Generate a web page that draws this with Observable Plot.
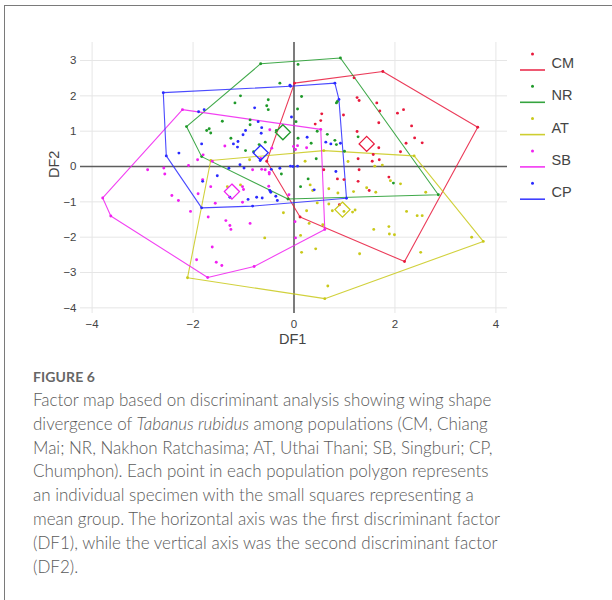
<!DOCTYPE html>
<html>
<head>
<meta charset="utf-8">
<script src="https://cdn.jsdelivr.net/npm/d3@7"></script>
<script src="https://cdn.jsdelivr.net/npm/@observablehq/plot@0.6"></script>
<style>
  html, body { margin: 0; padding: 0; background: #fff; }
  #page { position: relative; width: 612px; height: 600px; overflow: hidden; font-family: "Liberation Sans", Arial, sans-serif; }
  #frame { position: absolute; left: 4px; top: 5px; width: 800px; height: 800px; border-left: 1.5px solid #7a7a7a; border-top: 1.5px solid #7a7a7a; }
  #chart { position: absolute; left: 0; top: 0; }
  .axtitle { position: absolute; font-size: 14.5px; color: #444; white-space: nowrap; }
  #legend { position: absolute; left: 0; top: 0; }
  #caption { position: absolute; left: 33px; top: 366px; color: #5a5a5a; font-family: Lato, "Open Sans", sans-serif; }
  #caption .fig { font-weight: 700; font-size: 14px; letter-spacing: 0.1px; height: 22px; line-height: 22px; color: #666; }
  #caption .ln { font-size: 17px; line-height: 23.8px; height: 23.8px; white-space: nowrap; font-weight: 300; }
</style>
</head>
<body>
<div id="page">
  <div id="frame"></div>
  <div id="chart"></div>
  <div class="axtitle" id="xt" style="left:279px; top:331px;">DF1</div>
  <div class="axtitle" id="yt" style="left:41px; top:155px; transform: rotate(-90deg); transform-origin: 14px 9px;">DF2</div>
  <svg id="legend" width="612" height="220"></svg>
  <div id="caption"></div>
</div>
<script>
// ---- data ----
const groups = ["CM", "NR", "AT", "SB", "CP"];
const groupColors = ["#e8193c", "#1f9a2a", "#c9c91a", "#f020f0", "#2a2aff"];
const xTicks = [-4, -2, 0, 2, 4];
const yTicks = [-4, -3, -2, -1, 0, 1, 2, 3];

// hull vertices (each vertex is also a specimen)
const cmHull = [[0.01,2.36],[1.76,2.69],[3.64,1.11],[2.19,-2.69],[0.12,-1.43],[-0.54,0.15]];
const nrHull = [[-0.66,2.91],[0.92,3.07],[2.86,-0.80],[-0.12,-0.92],[-1.83,0.28],[-2.13,1.13]];
const atHull = [[-1.65,0.17],[0.59,0.45],[2.38,0.30],[3.75,-2.12],[0.61,-3.74],[-2.11,-3.15]];
const sbHull = [[-2.21,1.61],[0.53,1.05],[0.61,-1.78],[-0.79,-2.83],[-1.71,-3.14],[-3.63,-1.40],[-3.79,-0.89]];
const cpHull = [[-2.59,2.09],[-0.07,2.27],[0.81,2.36],[0.89,1.90],[1.04,-0.90],[-0.82,-1.12],[-1.83,-1.17],[-2.53,0.30]];

// interior specimens
const cmPoints = [[1.19,2.51],[1.25,1.95],[1.29,1.87],[1.64,1.80],[1.70,1.57],[2.05,1.51],[2.17,1.61],[0.98,1.46],[0.55,1.49],[0.53,1.30],[0.42,1.20],[1.68,1.24],[2.33,1.15],[1.25,0.99],[2.39,0.81],[2.54,0.67],[2.22,0.66],[1.68,0.53],[2.11,0.42],[1.57,0.34],[1.27,0.22],[1.69,0.19],[1.55,0.15],[1.29,-0.09],[0.59,-0.09],[1.88,-0.30],[0.86,-0.35],[0.99,-0.37],[1.27,-0.42],[1.49,-0.68],[0.90,-1.08]];
const nrPoints = [[0.08,2.89],[-0.28,2.36],[-1.06,2.00],[-1.17,1.80],[-0.51,1.89],[-0.54,1.72],[-0.51,1.61],[-0.87,1.32],[-1.42,1.28],[-0.87,1.18],[-1.68,1.07],[-1.73,1.02],[-1.65,0.95],[-0.35,1.02],[-1.25,0.80],[-0.57,0.69],[-0.69,0.62],[-0.96,0.45],[-0.80,0.42],[-0.25,-0.21],[0.15,1.98],[0.84,1.80],[0.86,1.84],[0.07,1.63],[0.04,1.27],[0.46,1.00],[0.66,0.91],[1.27,0.84],[0.08,0.80],[0.34,0.66],[0.81,0.74],[0.84,0.62],[1.00,0.43],[0.44,0.22],[0.28,-0.35],[1.97,-0.47],[0.13,-0.57]];
const atPoints = [[-0.88,0.19],[0.22,0.15],[1.07,0.14],[1.60,0.01],[1.75,0.04],[1.91,-0.40],[2.11,-0.49],[2.61,-0.73],[1.62,-0.73],[1.18,-0.71],[0.87,-0.75],[0.69,-0.63],[0.32,-0.52],[0.37,-0.68],[1.44,-0.60],[0.46,-1.03],[0.69,-1.06],[0.76,-1.25],[0.99,-1.27],[1.16,-1.29],[1.21,-1.23],[0.25,-1.25],[0.30,-1.61],[0.57,-1.65],[2.23,-1.27],[2.44,-1.39],[2.54,-1.39],[1.88,-1.70],[1.58,-1.78],[1.89,-1.91],[1.99,-1.93],[0.13,-1.95],[0.15,-2.43],[0.43,-2.33],[1.30,-2.47],[2.51,-2.43],[-0.21,-1.31],[3.52,-2.00],[0.67,-3.38],[-1.32,-0.57],[-1.06,-0.52],[-0.58,-2.02]];
const sbPoints = [[-0.48,1.04],[-1.37,0.58],[-0.44,0.52],[-1.80,0.33],[-1.91,0.19],[-0.66,0.23],[-1.62,0.15],[-2.09,0.03],[-2.58,-0.04],[-2.56,-0.21],[-2.90,-0.09],[-0.82,-0.09],[-0.64,-0.08],[-0.57,-0.09],[-0.49,-0.17],[-1.81,-0.37],[0.07,0.59],[-0.01,0.57],[0.03,0.48],[0.25,0.53],[-1.65,-0.57],[-2.42,-0.82],[-2.29,-0.96],[-1.90,-0.77],[-1.02,-0.57],[-1.00,-0.65],[-1.56,-1.04],[-1.02,-1.01],[-0.50,-0.56],[-0.49,-0.21],[-0.10,-0.80],[-2.05,-1.27],[-1.70,-1.43],[-1.35,-1.53],[-1.27,-1.67],[-1.25,-1.78],[-0.87,-1.61],[0.02,-1.56],[0.03,-2.02],[-1.62,-2.28],[-1.93,-2.64],[-1.54,-2.71],[-1.43,-2.80]];
const cpPoints = [[-0.78,1.66],[-1.78,1.61],[-1.89,1.55],[-0.71,1.27],[-0.64,1.10],[-0.96,1.02],[-0.65,0.94],[-1.01,0.90],[-1.11,0.71],[-1.20,0.64],[-1.12,0.55],[-1.83,0.64],[-2.28,0.38],[-0.67,0.17],[-1.29,-0.05],[-1.07,0.05],[-0.99,-0.04],[-0.45,-0.08],[-0.28,-0.05],[-1.52,-0.26],[-0.05,1.40],[-0.02,0.00],[0.26,0.83],[0.63,0.69],[0.73,0.64],[0.92,0.66],[0.07,0.01],[-0.07,0.01],[0.83,-0.14],[0.40,-0.66],[-1.81,-0.42],[-1.27,-0.87],[-0.91,-0.93],[-0.74,-0.87],[-0.63,-0.89],[-0.48,-0.68],[-0.46,-0.73],[-0.36,-0.84],[-0.33,-0.96],[-0.08,2.30]];

// group means (diamonds)
const meanX = [1.44, -0.22, 0.96, -1.23, -0.66];
const meanY = [0.64, 0.97, -1.22, -0.71, 0.39];

// ---- build tables ----
const hulls = [cmHull, nrHull, atHull, sbHull, cpHull];
const interior = [cmPoints, nrPoints, atPoints, sbPoints, cpPoints];
const color = g => groupColors[groups.indexOf(g)];

const hullRows = [];
const dotRows = [];
groups.forEach((g, i) => {
  hulls[i].forEach(([x, y]) => { hullRows.push({g, x, y}); dotRows.push({g, x, y}); });
  interior[i].forEach(([x, y]) => dotRows.push({g, x, y}));
});
const meanRows = groups.map((g, i) => ({g, x: meanX[i], y: meanY[i]}));

const minus = d => d < 0 ? "\u2212" + Math.abs(d) : String(d);

const chart = Plot.plot({
  width: 612,
  height: 350,
  marginLeft: 80,
  marginRight: 105,
  marginTop: 42,
  marginBottom: 37,
  style: {fontFamily: '"Liberation Sans", Arial, sans-serif', background: "transparent", overflow: "visible"},
  x: {domain: [-4.23, 4.23]},
  y: {domain: [-4.16, 3.51]},
  marks: [
    Plot.gridX(xTicks, {stroke: "#e6e6e6", strokeOpacity: 1, strokeWidth: 1}),
    Plot.gridY(yTicks, {stroke: "#e6e6e6", strokeOpacity: 1, strokeWidth: 1}),
    Plot.ruleX([0], {stroke: "#5e5e5e", strokeWidth: 1.6}),
    Plot.ruleY([0], {stroke: "#5e5e5e", strokeWidth: 1.6}),
    Plot.axisX(xTicks, {tickSize: 0, tickPadding: 6, tickFormat: minus, fontSize: 11.5, fill: "#444", label: null}),
    Plot.axisY(yTicks, {tickSize: 0, tickPadding: 4, tickFormat: minus, fontSize: 11.5, fill: "#444", label: null}),
    Plot.line(hullRows, {x: "x", y: "y", z: "g", stroke: d => color(d.g), strokeWidth: 1.1, strokeOpacity: 0.85, curve: "linear-closed"}),
    Plot.dot(dotRows, {x: "x", y: "y", r: 1.45, fill: d => color(d.g), stroke: "none"}),
    Plot.dot(meanRows, {x: "x", y: "y", symbol: "diamond2", r: 6.8, stroke: d => color(d.g), strokeWidth: 1.3, fill: "none"})
  ]
});
document.getElementById("chart").appendChild(chart);

// ---- legend ----
const leg = d3.select("#legend");
groups.forEach((g, i) => {
  const dy = i * 32.3;
  leg.append("circle").attr("cx", 532.5).attr("cy", 54 + dy).attr("r", 1.5).attr("fill", groupColors[i]);
  leg.append("line").attr("x1", 520).attr("x2", 545).attr("y1", 70 + dy).attr("y2", 70 + dy)
    .attr("stroke", groupColors[i]).attr("stroke-width", 1.6).attr("stroke-opacity", 0.9);
  leg.append("text").attr("x", 551.5).attr("y", 62.7 + dy).attr("dy", "0.36em")
    .attr("font-family", '"Liberation Sans", Arial, sans-serif').attr("font-size", 14.5).attr("fill", "#444").text(g);
});

// ---- caption ----
const captionLines = [
  "Factor map based on discriminant analysis showing wing shape",
  "divergence of <i>Tabanus rubidus</i> among populations (CM, Chiang",
  "Mai; NR, Nakhon Ratchasima; AT, Uthai Thani; SB, Singburi; CP,",
  "Chumphon). Each point in each population polygon represents",
  "an individual specimen with the small squares representing a",
  "mean group. The horizontal axis was the first discriminant factor",
  "(DF1), while the vertical axis was the second discriminant factor",
  "(DF2)."
];
const cap = document.getElementById("caption");
cap.innerHTML = '<div class="fig">FIGURE 6</div>' + captionLines.map(l => '<div class="ln">' + l + '</div>').join("");
</script>
</body>
</html>
